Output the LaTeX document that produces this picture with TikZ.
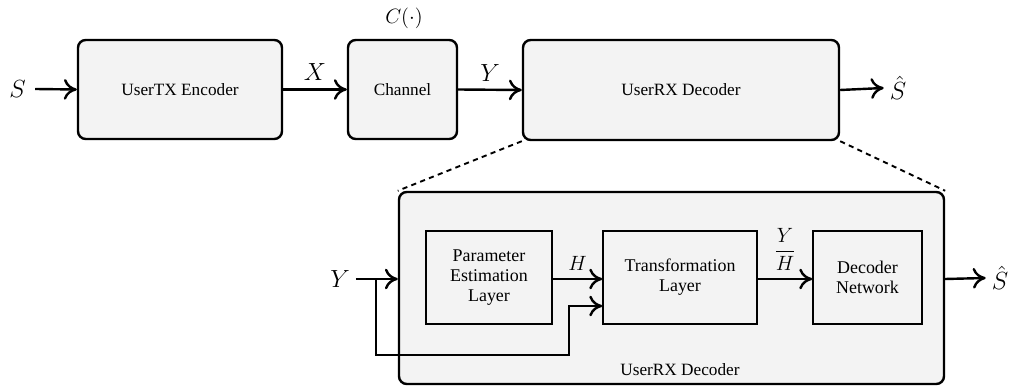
\documentclass[tikz,border=0pt]{standalone}
\usepackage{amsmath}
\usepackage[no-math]{fontspec}
\setmainfont{Liberation Serif}
\usetikzlibrary{arrows.meta}
\definecolor{boxfill}{RGB}{243,243,243}
\begin{document}
\begin{tikzpicture}[x=0.58pt,y=-0.58pt,
  block/.style={draw,line width=1.4pt,fill=boxfill,rounded corners=4.5pt,
    inner sep=0pt,align=center,font=\rmfamily\fontsize{10}{12}\selectfont},
  inblock/.style={draw,line width=0.9pt,fill=boxfill,inner sep=0pt,
    align=center,font=\rmfamily\fontsize{10.4}{11.6}\selectfont},
  sig/.style={line width=1.4pt,-{Computer Modern Rightarrow[length=7.5pt,width=12pt]}},
  dots/.style={line width=1.1pt,dash pattern=on 3pt off 2.5pt},
  big/.style={font=\Large},
  lbl/.style={font=\large}]
\useasboundingbox (0,0) rectangle (1011,386);

% top chain
\node[block,minimum width=204*0.58pt,minimum height=99*0.58pt] (enc) at (180,89.5) {UserTX Encoder};
\node[block,minimum width=109*0.58pt,minimum height=99*0.58pt] (chan) at (402.5,89.5) {Channel};
\node[block,minimum width=316*0.58pt,minimum height=100*0.58pt] (rx) at (681,90) {UserRX Decoder};
\node[font=\large] (cfun) at (404,18) {$C(\cdot)$};

\node[big] (s) at (17.5,89) {$S$};
\node[big] (shat) at (898,88) {$\hat{S}$};

\draw[sig] ([xshift=2pt]s.east) -- (enc.west);
\draw[sig] (enc.east) -- node[big,above=1pt] {$X$} (chan.west);
\draw[sig] (chan.east) -- node[big,above=1pt] {$Y$} (rx.west);
\draw[sig] (rx.east) -- (shat.west);

% expanded receiver
\node[block,minimum width=545*0.58pt,minimum height=192*0.58pt] (rxbig) at (671.5,288) {};
\node[font=\rmfamily\fontsize{10}{12}\selectfont] (rxname) at (680,370) {UserRX Decoder};

\draw[dots] (rx.south west) -- (rxbig.north west);
\draw[dots] (rx.south east) -- (rxbig.north east);

\node[inblock,minimum width=126*0.58pt,minimum height=93*0.58pt] (pel) at (489,277.5) {Parameter\\Estimation\\Layer};
\node[inblock,minimum width=154*0.58pt,minimum height=93*0.58pt] (tl) at (680,277.5) {Transformation\\Layer};
\node[inblock,minimum width=109*0.58pt,minimum height=93*0.58pt] (dn) at (867.5,277.5) {Decoder\\Network};

\node[big] (yin) at (340,279) {$Y$};
\node[big] (shatb) at (1000,278) {$\hat{S}$};
\coordinate (split) at (376,279);
\coordinate (under) at (376,355);
\coordinate (rise) at (569,355);
\coordinate (tlin) at (569,306);

\draw[sig] (yin.east) -- (rxbig.west |- yin);
\draw[sig] (split) -- (under) -- (rise) -- (tlin) -- (tl.west |- tlin);
\draw[sig] (pel.east |- split) -- node[lbl,above=1pt] {$H$} (tl.west |- split);
\draw[sig] (tl.east |- split) -- node[lbl,above=1pt] {$\dfrac{Y}{H}$} (dn.west |- split);
\draw[sig] (rxbig.east |- split) -- (shatb.west);
\end{tikzpicture}
\end{document}
